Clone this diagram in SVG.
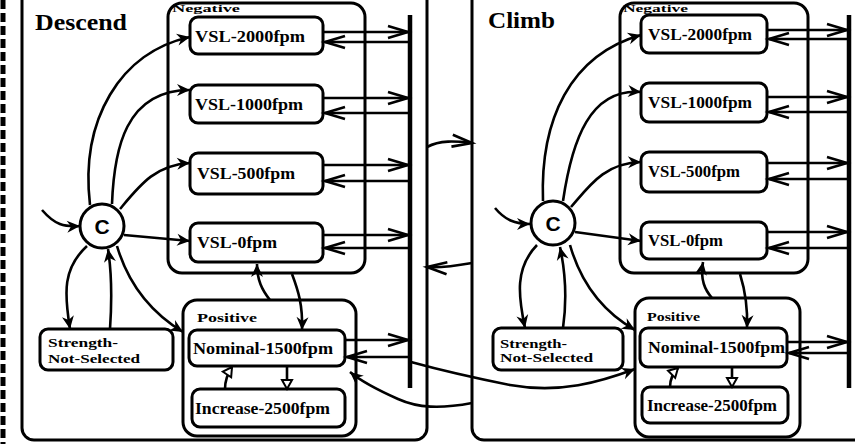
<svg xmlns="http://www.w3.org/2000/svg" width="855" height="444" viewBox="0 0 855 444">
<style>
.box{fill:none;stroke:#000;stroke-width:3}
.st{fill:#fff;stroke:#000;stroke-width:3}
.ln{fill:none;stroke:#000;stroke-width:2.6}
.bar{stroke:#000;stroke-width:4.5}
.t{font-family:"Liberation Serif","Times New Roman",serif;font-weight:bold;fill:#000}
.v{font-size:17px}
.sm{font-size:13px}
.neg{font-size:11px}
.big{font-size:24px}
.c{font-family:"Liberation Sans",Arial,sans-serif;font-weight:bold;font-size:21px}
</style>
<defs>
<marker id="op" markerUnits="userSpaceOnUse" markerWidth="26" markerHeight="16" refX="21" refY="7" orient="auto" overflow="visible">
<path d="M1,1 L21,7 L1,13" fill="none" stroke="#000" stroke-width="2.6"/>
</marker>
<marker id="fa" markerUnits="userSpaceOnUse" markerWidth="16" markerHeight="12" refX="13" refY="6" orient="auto" overflow="visible">
<path d="M0,0 L13,6 L0,12 L4,6 z" fill="#000"/>
</marker>
<marker id="tr" markerUnits="userSpaceOnUse" markerWidth="12" markerHeight="10" refX="9" refY="5" orient="auto" overflow="visible">
<path d="M0,0 L9,5 L0,10 z" fill="#fff" stroke="#000" stroke-width="2"/>
</marker>
</defs>

<line x1="3" y1="0" x2="3" y2="444" stroke="#000" stroke-width="5" stroke-dasharray="9 4"/>

<g id="descend">
<rect class="box" x="22" y="-30" width="405" height="470" rx="12"/>
<text class="t big" x="35" y="30" textLength="92" lengthAdjust="spacingAndGlyphs">Descend</text>
</g>
<g id="climb">
<rect class="box" x="472" y="-30" width="420" height="470" rx="12"/>
<text class="t big" x="488" y="28" textLength="67" lengthAdjust="spacingAndGlyphs">Climb</text>
</g>

<g id="d-negative">
<rect class="box" x="168" y="3" width="197" height="270" rx="14"/>
<text class="t neg" x="172" y="12" textLength="68" lengthAdjust="spacingAndGlyphs">Negative</text>
</g>
<g id="d-vsl2000"><rect class="st" x="190" y="17" width="133" height="37" rx="8"/><text class="t v" x="195" y="42" textLength="110" lengthAdjust="spacingAndGlyphs">VSL-2000fpm</text></g>
<g id="d-vsl1000"><rect class="st" x="190" y="85" width="133" height="38" rx="8"/><text class="t v" x="195" y="110" textLength="108" lengthAdjust="spacingAndGlyphs">VSL-1000fpm</text></g>
<g id="d-vsl500"><rect class="st" x="190" y="153" width="133" height="41" rx="8"/><text class="t v" x="197" y="179" textLength="98" lengthAdjust="spacingAndGlyphs">VSL-500fpm</text></g>
<g id="d-vsl0"><rect class="st" x="190" y="223" width="133" height="39" rx="8"/><text class="t v" x="197" y="248" textLength="80" lengthAdjust="spacingAndGlyphs">VSL-0fpm</text></g>
<g id="d-positive">
<rect class="box" x="183" y="300" width="173" height="136" rx="14"/>
<text class="t sm" x="197" y="322" textLength="60" lengthAdjust="spacingAndGlyphs">Positive</text>
</g>
<g id="d-nominal"><rect class="st" x="189" y="330" width="156" height="36" rx="8"/><text class="t v" x="193" y="354" textLength="140" lengthAdjust="spacingAndGlyphs">Nominal-1500fpm</text></g>
<g id="d-increase"><rect class="st" x="192" y="389" width="153" height="38" rx="8"/><text class="t v" x="195" y="414" textLength="135" lengthAdjust="spacingAndGlyphs">Increase-2500fpm</text></g>
<g id="d-strength"><rect class="st" x="40" y="329" width="133" height="41" rx="8"/>
<text class="t sm" x="48" y="347" textLength="70" lengthAdjust="spacingAndGlyphs">Strength-</text>
<text class="t sm" x="48" y="363" textLength="92" lengthAdjust="spacingAndGlyphs">Not-Selected</text></g>
<g id="d-c"><circle cx="102" cy="226" r="22" fill="#fff" stroke="#000" stroke-width="3"/><text class="c" x="102" y="234" text-anchor="middle">C</text></g>
<g id="d-bar"><line class="bar" x1="410" y1="15" x2="410" y2="388"/></g>

<g id="c-negative">
<rect class="box" x="620" y="3" width="188" height="270" rx="14"/>
<text class="t neg" x="623" y="12" textLength="65" lengthAdjust="spacingAndGlyphs">Negative</text>
</g>
<g id="c-vsl2000"><rect class="st" x="641" y="15" width="126" height="38" rx="8"/><text class="t v" x="648" y="40" textLength="104" lengthAdjust="spacingAndGlyphs">VSL-2000fpm</text></g>
<g id="c-vsl1000"><rect class="st" x="641" y="83" width="126" height="39" rx="8"/><text class="t v" x="648" y="108" textLength="104" lengthAdjust="spacingAndGlyphs">VSL-1000fpm</text></g>
<g id="c-vsl500"><rect class="st" x="641" y="152" width="126" height="40" rx="8"/><text class="t v" x="648" y="177" textLength="92" lengthAdjust="spacingAndGlyphs">VSL-500fpm</text></g>
<g id="c-vsl0"><rect class="st" x="641" y="222" width="126" height="37" rx="8"/><text class="t v" x="648" y="246" textLength="75" lengthAdjust="spacingAndGlyphs">VSL-0fpm</text></g>
<g id="c-positive">
<rect class="box" x="635" y="298" width="165" height="139" rx="14"/>
<text class="t sm" x="647" y="321" textLength="53" lengthAdjust="spacingAndGlyphs">Positive</text>
</g>
<g id="c-nominal"><rect class="st" x="640" y="328" width="147" height="39" rx="8"/><text class="t v" x="648" y="353" textLength="137" lengthAdjust="spacingAndGlyphs">Nominal-1500fpm</text></g>
<g id="c-increase"><rect class="st" x="642" y="387" width="146" height="36" rx="8"/><text class="t v" x="647" y="411" textLength="130" lengthAdjust="spacingAndGlyphs">Increase-2500fpm</text></g>
<g id="c-strength"><rect class="st" x="493" y="328" width="130" height="42" rx="8"/>
<text class="t sm" x="500" y="348" textLength="67" lengthAdjust="spacingAndGlyphs">Strength-</text>
<text class="t sm" x="500" y="362" textLength="93" lengthAdjust="spacingAndGlyphs">Not-Selected</text></g>
<g id="c-c"><circle cx="553" cy="223" r="22" fill="#fff" stroke="#000" stroke-width="3"/><text class="c" x="553" y="231" text-anchor="middle">C</text></g>
<g id="c-bar"><line class="bar" x1="849" y1="15" x2="849" y2="388"/></g>

<g id="connectors">
<path class="ln" d="M323,32 L408,32" marker-end="url(#op)"/>
<path class="ln" d="M408,42 L325,42" marker-end="url(#op)"/>
<path class="ln" d="M323,98 L408,98" marker-end="url(#op)"/>
<path class="ln" d="M408,113 L325,113" marker-end="url(#op)"/>
<path class="ln" d="M323,165 L408,165" marker-end="url(#op)"/>
<path class="ln" d="M408,181 L325,181" marker-end="url(#op)"/>
<path class="ln" d="M323,235 L408,235" marker-end="url(#op)"/>
<path class="ln" d="M408,248 L325,248" marker-end="url(#op)"/>
<path class="ln" d="M345,340 L408,340" marker-end="url(#op)"/>
<path class="ln" d="M408,357 L347,357" marker-end="url(#op)"/>
<path class="ln" d="M42,210 C55,225 64,227 80,226" marker-end="url(#fa)"/>
<path class="ln" d="M90,205 C80,120 120,52 190,37" marker-end="url(#fa)"/>
<path class="ln" d="M112,204 C114,150 125,90 190,90" marker-end="url(#fa)"/>
<path class="ln" d="M120,209 C140,185 155,165 190,163" marker-end="url(#fa)"/>
<path class="ln" d="M124,235 L190,241" marker-end="url(#fa)"/>
<path class="ln" d="M87,246 C63,268 64,292 70,329" marker-end="url(#fa)"/>
<path class="ln" d="M110,329 C112,300 112,275 108,249" marker-end="url(#fa)"/>
<path class="ln" d="M117,246 C130,290 155,315 183,332" marker-end="url(#fa)"/>
<path class="ln" d="M292,274 C298,290 303,305 302,330" marker-end="url(#fa)"/>
<path class="ln" d="M270,300 C262,290 257,280 257,264" marker-end="url(#fa)"/>
<path class="ln" d="M287,366 L287,389" marker-end="url(#tr)"/>
<path class="ln" d="M225,389 C225,380 228,373 232,367" marker-end="url(#tr)"/>
<path class="ln" d="M767,30 L847,30" marker-end="url(#op)"/>
<path class="ln" d="M847,39 L769,39" marker-end="url(#op)"/>
<path class="ln" d="M767,97 L847,97" marker-end="url(#op)"/>
<path class="ln" d="M847,112 L769,112" marker-end="url(#op)"/>
<path class="ln" d="M767,163 L847,163" marker-end="url(#op)"/>
<path class="ln" d="M847,179 L769,179" marker-end="url(#op)"/>
<path class="ln" d="M767,232 L847,232" marker-end="url(#op)"/>
<path class="ln" d="M847,248 L769,248" marker-end="url(#op)"/>
<path class="ln" d="M787,342 L847,342" marker-end="url(#op)"/>
<path class="ln" d="M847,353 L789,353" marker-end="url(#op)"/>
<path class="ln" d="M495,208 C505,220 515,224 530,224" marker-end="url(#fa)"/>
<path class="ln" d="M543,201 C540,120 570,55 641,35" marker-end="url(#fa)"/>
<path class="ln" d="M563,201 C572,140 590,88 641,92" marker-end="url(#fa)"/>
<path class="ln" d="M571,207 C590,185 605,163 641,162" marker-end="url(#fa)"/>
<path class="ln" d="M575,232 L641,241" marker-end="url(#fa)"/>
<path class="ln" d="M537,245 C515,268 518,295 525,328" marker-end="url(#fa)"/>
<path class="ln" d="M563,328 C567,300 566,275 560,247" marker-end="url(#fa)"/>
<path class="ln" d="M570,245 C580,280 600,310 635,330" marker-end="url(#fa)"/>
<path class="ln" d="M740,274 C745,290 748,305 747,328" marker-end="url(#fa)"/>
<path class="ln" d="M712,298 C705,290 700,280 703,262" marker-end="url(#fa)"/>
<path class="ln" d="M732,367 L732,387" marker-end="url(#tr)"/>
<path class="ln" d="M670,387 C670,380 673,373 678,368" marker-end="url(#tr)"/>
<path class="ln" d="M427,147 C440,140 455,141 472,143" marker-end="url(#op)"/>
<path class="ln" d="M472,263 C455,266 442,268 427,267" marker-end="url(#op)"/>
<path class="ln" d="M411,362 C440,370 470,377 510,385 C560,394 600,382 635,369" marker-end="url(#fa)"/>
<path class="ln" d="M472,403 C440,409 418,408 398,399 C380,391 362,382 350,372" marker-end="url(#fa)"/>
</g>
</svg>
